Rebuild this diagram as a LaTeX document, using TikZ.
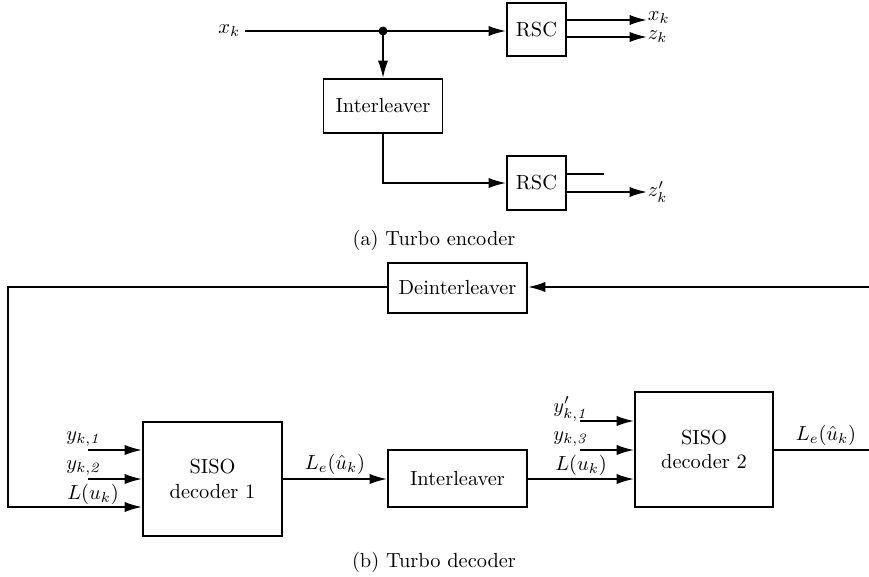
\documentclass[tikz,border=0pt]{standalone}
\usetikzlibrary{arrows.meta}
\begin{document}
\begin{tikzpicture}[x=0.49pt,y=-0.49pt,line width=0.9pt,
  blk/.style={draw,line width=0.9pt,inner sep=0pt,align=center},
  arr/.style={-{Latex[length=8.5pt,width=5pt]}},
  lbl/.style={inner sep=0pt}]
\useasboundingbox (0,0) rectangle (869,576);
% ---- encoder ----
\node[blk,minimum width=59*0.49pt,minimum height=53*0.49pt] (rsc1) at (536.5,29.5) {RSC};
\node[blk,minimum width=119*0.49pt,minimum height=54*0.49pt] (int1) at (383,106) {Interleaver};
\node[blk,minimum width=59*0.49pt,minimum height=54*0.49pt] (rsc2) at (536.5,183) {RSC};
\node[lbl,anchor=east] (xk) at (241,31) {$x_k$};
\coordinate (j) at (383,31);
\draw[arr] (xk.east) ++(4,0) -- (rsc1.west |- j);
\fill (j) circle (2.2pt);
\draw[arr] (j) -- (int1.north);
\coordinate (o1) at (647,20);
\coordinate (o2) at (647,37);
\draw[arr] (rsc1.east |- o1) -- (o1);
\draw[arr] (rsc1.east |- o2) -- (o2);
\node[lbl,anchor=west] (lx) at ([yshift=1pt]o1) {$x_k$};
\node[lbl,anchor=west] (lz) at (o2) {$z_k$};
\draw[arr] (int1.south) -- (int1.south |- rsc2.west) -- (rsc2.west);
\coordinate (o3) at (604,174);
\coordinate (o4) at (647,192);
\draw (rsc2.east |- o3) -- (o3);
\draw[arr] (rsc2.east |- o4) -- (o4);
\node[lbl,anchor=west] (lz2) at (o4) {$z'_k$};
\node (capa) at (434,240) {(a) Turbo encoder};
% ---- decoder ----
\node[blk,minimum width=139*0.49pt,minimum height=50*0.49pt] (deint) at (457.5,288) {Deinterleaver};
\node[blk,minimum width=139*0.49pt,minimum height=114*0.49pt] (siso1) at (212.5,479) {SISO\\decoder 1};
\node[blk,minimum width=139*0.49pt,minimum height=57*0.49pt] (int2) at (457.5,478.5) {Interleaver};
\node[blk,minimum width=138*0.49pt,minimum height=115*0.49pt] (siso2) at (704,449.5) {SISO\\decoder 2};
\coordinate (fbr) at (869,287);
\coordinate (fbl) at (8,287);
\coordinate (fbb) at (8,507);
\draw[arr] (fbr) -- (deint.east |- fbr);
\draw[arr] (deint.west |- fbl) -- (fbl) -- (fbb) -- (siso1.west |- fbb);
% siso1 inputs
\coordinate (a1) at (88,450);
\coordinate (a2) at (88,479);
\draw[arr] (a1) -- (siso1.west |- a1);
\draw[arr] (a2) -- (siso1.west |- a2);
\node[lbl] (ly1) at (84,439) {$y_{k,\mathit{1}}$};
\node[lbl] (ly2) at (84,468) {$y_{k,\mathit{2}}$};
\node[lbl] (lu1) at (93,494) {$L(u_k)$};
\draw[arr] (siso1.east |- a2) -- (int2.west |- a2);
\node[lbl] (le1) at (335,464) {$L_e(\hat u_k)$};
% siso2 inputs
\coordinate (b1) at (580,421);
\coordinate (b2) at (580,450);
\draw[arr] (b1) -- (siso2.west |- b1);
\draw[arr] (b2) -- (siso2.west |- b2);
\draw[arr] (int2.east |- a2) -- (siso2.west |- a2);
\node[lbl] (ly3) at (571,409) {$y'_{k,\mathit{1}}$};
\node[lbl] (ly4) at (571,439) {$y_{k,\mathit{3}}$};
\node[lbl] (lu2) at (581,465) {$L(u_k)$};
\coordinate (out2) at (869,450);
\draw (siso2.east |- out2) -- (out2);
\node[lbl] (le2) at (826,435) {$L_e(\hat u_k)$};
\node (capb) at (434,562) {(b) Turbo decoder};
\end{tikzpicture}
\end{document}
